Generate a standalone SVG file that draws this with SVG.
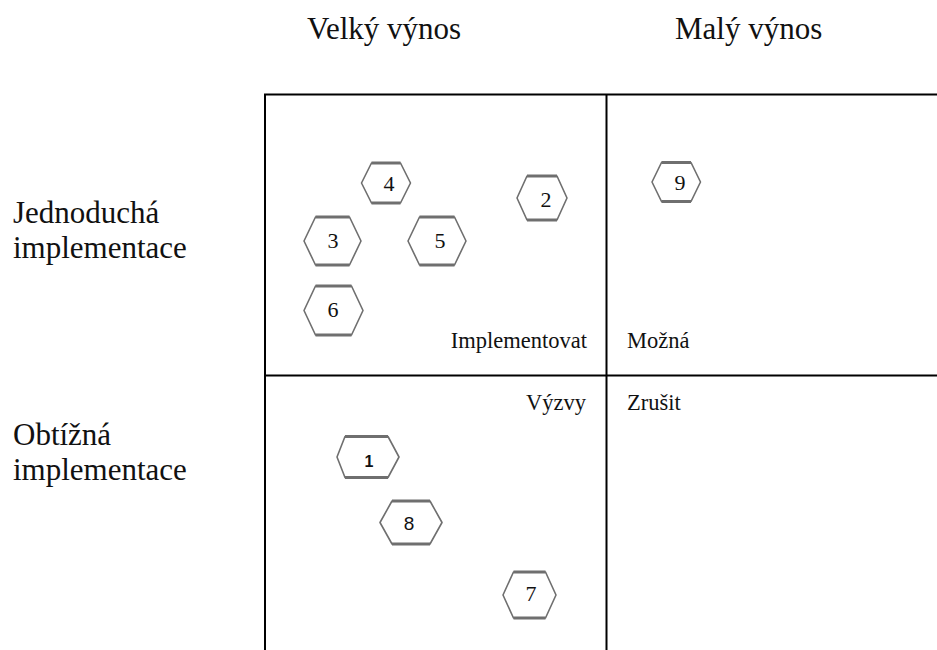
<svg xmlns="http://www.w3.org/2000/svg" width="937" height="650" viewBox="0 0 937 650">
  <style>
    .bg { fill: #ffffff; }
    .frame { fill: none; stroke: #000000; stroke-width: 2; }
    .hex { fill: #ffffff; stroke: #6f6f6f; stroke-width: 1.6; stroke-linejoin: round; }
    .edge { stroke: #6f6f6f; stroke-width: 3; stroke-linecap: butt; }
    .head { font-family: "Liberation Serif", "Times New Roman", serif; font-size: 31px; fill: #111111; }
    .quad { font-family: "Liberation Serif", "Times New Roman", serif; font-size: 22.5px; fill: #111111; }
    .num { font-family: "Liberation Serif", "Times New Roman", serif; font-size: 22px; fill: #111111; text-anchor: middle; }
    .numsans { font-family: "Liberation Sans", Arial, sans-serif; fill: #111111; text-anchor: middle; }
  </style>

  <rect class="bg" x="0" y="0" width="937" height="650"/>

  <!-- column and row headings -->
  <g id="headings">
    <text class="head" x="307" y="39">Velký výnos</text>
    <text class="head" x="675" y="39">Malý výnos</text>
    <text class="head" x="13" y="223">Jednoduchá</text>
    <text class="head" x="13" y="258">implementace</text>
    <text class="head" x="13" y="445">Obtížná</text>
    <text class="head" x="13" y="480">implementace</text>
  </g>

  <!-- 2x2 grid -->
  <g id="grid">
    <polyline class="frame" points="940,94.5 265,94.5 265,655"/>
    <line class="frame" x1="606.5" y1="94.5" x2="606.5" y2="655"/>
    <line class="frame" x1="265" y1="375.5" x2="940" y2="375.5"/>
  </g>

  <!-- quadrant captions -->
  <g id="quadrant-labels">
    <text class="quad" x="587" y="348" text-anchor="end">Implementovat</text>
    <text class="quad" x="627" y="348">Možná</text>
    <text class="quad" x="586" y="410" text-anchor="end">Výzvy</text>
    <text class="quad" x="627" y="410">Zrušit</text>
  </g>

  <!-- items -->
  <g id="item-4">
    <polygon class="hex" points="361.5,183 371.5,163 400.5,163 410.5,183 400.5,203 371.5,203"/>
    <line class="edge" x1="371.5" y1="163" x2="400.5" y2="163"/>
    <line class="edge" x1="371.5" y1="203" x2="400.5" y2="203"/>
    <text class="num" x="389" y="191">4</text>
  </g>
  <g id="item-3">
    <polygon class="hex" points="304,241 315.5,217 349.5,217 361,241 349.5,265 315.5,265"/>
    <line class="edge" x1="315.5" y1="217" x2="349.5" y2="217"/>
    <line class="edge" x1="315.5" y1="265" x2="349.5" y2="265"/>
    <text class="num" x="333" y="248">3</text>
  </g>
  <g id="item-5">
    <polygon class="hex" points="408,241 419.5,217 454.5,217 466,241 454.5,265 419.5,265"/>
    <line class="edge" x1="419.5" y1="217" x2="454.5" y2="217"/>
    <line class="edge" x1="419.5" y1="265" x2="454.5" y2="265"/>
    <text class="num" x="440" y="248">5</text>
  </g>
  <g id="item-6">
    <polygon class="hex" points="304,310.5 315.5,286 351.5,286 363,310.5 351.5,335 315.5,335"/>
    <line class="edge" x1="315.5" y1="286" x2="351.5" y2="286"/>
    <line class="edge" x1="315.5" y1="335" x2="351.5" y2="335"/>
    <text class="num" x="333" y="317">6</text>
  </g>
  <g id="item-2">
    <polygon class="hex" points="517,198 527,176 557,176 567,198 557,220 527,220"/>
    <line class="edge" x1="527" y1="176" x2="557" y2="176"/>
    <line class="edge" x1="527" y1="220" x2="557" y2="220"/>
    <text class="num" x="546" y="207">2</text>
  </g>
  <g id="item-9">
    <polygon class="hex" points="652,182 661.5,162.5 691,162.5 700.5,182 691,201.5 661.5,201.5"/>
    <line class="edge" x1="661.5" y1="162.5" x2="691" y2="162.5"/>
    <line class="edge" x1="661.5" y1="201.5" x2="691" y2="201.5"/>
    <text class="num" x="680" y="190">9</text>
  </g>
  <g id="item-1">
    <polygon class="hex" points="337,457 345,436.5 388,436.5 399,457 388,477.5 345,477.5"/>
    <line class="edge" x1="345" y1="436.5" x2="388" y2="436.5"/>
    <line class="edge" x1="345" y1="477.5" x2="388" y2="477.5"/>
    <text class="numsans" x="369" y="467" font-size="16" font-weight="bold">1</text>
  </g>
  <g id="item-8">
    <polygon class="hex" points="380,522.5 392,501 430,501 442,522.5 430,544 392,544"/>
    <line class="edge" x1="392" y1="501" x2="430" y2="501"/>
    <line class="edge" x1="392" y1="544" x2="430" y2="544"/>
    <text class="numsans" x="409" y="530" font-size="19">8</text>
  </g>
  <g id="item-7">
    <polygon class="hex" points="503,595 513.5,572 545.5,572 556,595 545.5,618 513.5,618"/>
    <line class="edge" x1="513.5" y1="572" x2="545.5" y2="572"/>
    <line class="edge" x1="513.5" y1="618" x2="545.5" y2="618"/>
    <text class="num" x="531" y="601">7</text>
  </g>
</svg>
